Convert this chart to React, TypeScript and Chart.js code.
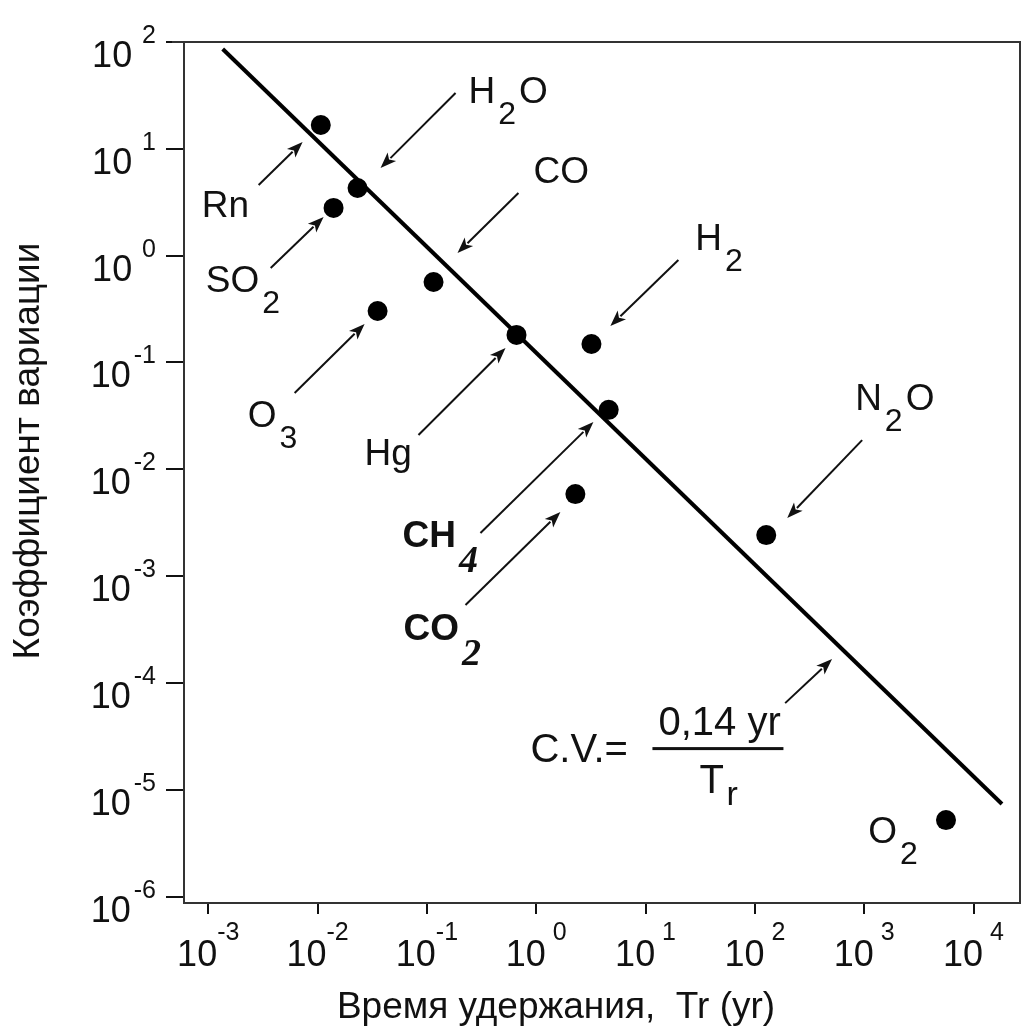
import React, { useEffect, useRef } from "react";
import { Chart, registerables } from "chart.js";

Chart.register(...registerables);

// ---- data ----
const gases = ["Rn", "H2O", "SO2", "CO", "O3", "Hg", "H2", "CH4", "CO2", "N2O", "O2"];
const residenceTime = [0.0107, 0.0232, 0.014, 0.115, 0.0354, 0.66, 3.2, 4.6, 2.28, 127, 5600];
const variationCoef = [16.7, 4.3, 2.8, 0.566, 0.303, 0.181, 0.149, 0.036, 0.00586, 0.00242, 5.2e-6];
const fitTr = [0.001355, 18200];
const fitCV = [85.9, 7.35e-6];
const xTickExps = [-3, -2, -1, 0, 1, 2, 3, 4];
const yTickExps = [2, 1, 0, -1, -2, -3, -4, -5, -6];
const xTitle = "Время удержания,  Tr (yr)";
const yTitle = "Коэффициент вариации";

// annotation anchors in log10 units (x = log10 Tr, y = log10 CV)
const annotations = [
  { parts: [["Rn", "n"]], at: [-3.06, 0.361], tail: [-2.539, 0.661], head: [-2.137, 1.064] },
  { parts: [["H", "n"], ["2", "s"], ["O", "n"]], at: [-0.62, 1.4286], tail: [-0.738, 1.522], head: [-1.424, 0.82] },
  { parts: [["CO", "n"]], at: [-0.0256, 0.68], tail: [-0.163, 0.586], head: [-0.72, 0.0243] },
  { parts: [["SO", "n"], ["2", "s"]], at: [-3.023, -0.341], tail: [-2.429, -0.116], head: [-1.945, 0.361] },
  { parts: [["O", "n"], ["3", "s"]], at: [-2.639, -1.605], tail: [-2.21, -1.286], head: [-1.57, -0.639] },
  { parts: [["Hg", "n"]], at: [-1.57, -1.96], tail: [-1.077, -1.679], head: [-0.281, -0.865] },
  { parts: [["H", "n"], ["2", "s"]], at: [1.455, 0.0524], tail: [1.3, -0.0412], head: [0.678, -0.659] },
  { parts: [["CH", "b"], ["4", "bs"]], at: [-1.223, -2.728], tail: [-0.51, -2.597], head: [0.523, -1.558] },
  { parts: [["CO", "b"], ["2", "bs"]], at: [-1.214, -3.599], tail: [-0.647, -3.27], head: [0.221, -2.4] },
  { parts: [["N", "n"], ["2", "s"], ["O", "n"]], at: [2.917, -1.446], tail: [2.981, -1.727], head: [2.296, -2.457] },
  { parts: [["O", "n"], ["2", "s"]], at: [3.036, -5.498] },
];
const formulaAt = [-0.053, -4.741];
const formulaArrow = { tail: [2.277, -4.189], head: [2.706, -3.777] };

const SANS = "'Liberation Sans', Arial, sans-serif";
const SERIF = "'Liberation Serif', 'Times New Roman', serif";
const INK = "#111";

function fontFor(style: string) {
  if (style === "s") return `32px ${SANS}`;
  if (style === "b") return `bold 37px ${SANS}`;
  if (style === "bs") return `italic bold 38px ${SERIF}`;
  return `37px ${SANS}`;
}

function drawArrow(ctx: CanvasRenderingContext2D, x1: number, y1: number, x2: number, y2: number) {
  const ang = Math.atan2(y2 - y1, x2 - x1);
  const hl = 16, hw = 6;
  const bx = x2 - hl * Math.cos(ang), by = y2 - hl * Math.sin(ang);
  ctx.save();
  ctx.strokeStyle = INK;
  ctx.fillStyle = INK;
  ctx.lineWidth = 2;
  ctx.beginPath();
  ctx.moveTo(x1, y1);
  ctx.lineTo(bx + 2 * Math.cos(ang), by + 2 * Math.sin(ang));
  ctx.stroke();
  ctx.beginPath();
  ctx.moveTo(x2, y2);
  ctx.lineTo(bx + hw * Math.sin(ang), by - hw * Math.cos(ang));
  ctx.lineTo(bx + 4 * Math.cos(ang), by + 4 * Math.sin(ang));
  ctx.lineTo(bx - hw * Math.sin(ang), by + hw * Math.cos(ang));
  ctx.closePath();
  ctx.fill();
  ctx.restore();
}

const textPlugin = {
  id: "texts",
  afterDraw(chart: any) {
    const ctx: CanvasRenderingContext2D = chart.ctx;
    const xs = chart.scales.x;
    const ys = chart.scales.y;
    const { left, right, top, bottom } = chart.chartArea;
    const px = (lx: number) => xs.getPixelForValue(Math.pow(10, lx));
    const py = (ly: number) => ys.getPixelForValue(Math.pow(10, ly));

    ctx.save();
    // top and right frame
    ctx.strokeStyle = "#333";
    ctx.lineWidth = 2;
    ctx.beginPath();
    ctx.moveTo(left - 12, top);
    ctx.lineTo(right, top);
    ctx.lineTo(right, bottom);
    ctx.stroke();

    ctx.fillStyle = INK;
    ctx.textBaseline = "alphabetic";

    // y tick labels
    for (const e of yTickExps) {
      const y = ys.getPixelForValue(Math.pow(10, e));
      const sup = e < 0 ? "-" + -e : " " + e;
      ctx.font = `25px ${SANS}`;
      const sw = ctx.measureText(sup).width;
      const supLeft = left - 28 - sw;
      ctx.textAlign = "left";
      ctx.fillText(sup, supLeft, y + 1);
      ctx.font = `36px ${SANS}`;
      ctx.textAlign = "right";
      ctx.fillText("10", supLeft - 3, y + 25);
    }
    // x tick labels
    for (const e of xTickExps) {
      const x = xs.getPixelForValue(Math.pow(10, e));
      const sup = e < 0 ? "-" + -e : " " + e;
      ctx.font = `36px ${SANS}`;
      const w1 = ctx.measureText("10").width;
      ctx.font = `25px ${SANS}`;
      const w2 = ctx.measureText(sup).width;
      const start = x - (w1 + w2) / 2;
      ctx.textAlign = "left";
      ctx.font = `36px ${SANS}`;
      ctx.fillText("10", start, bottom + 63);
      ctx.font = `25px ${SANS}`;
      ctx.fillText(sup, start + w1, bottom + 37);
    }

    // axis titles
    ctx.font = `37px ${SANS}`;
    ctx.textAlign = "center";
    ctx.fillText(xTitle, 556, bottom + 115);
    ctx.save();
    ctx.translate(29, 451);
    ctx.rotate(-Math.PI / 2);
    ctx.textBaseline = "middle";
    ctx.fillText(yTitle, 0, 0);
    ctx.restore();

    // gas labels and arrows
    for (const a of annotations) {
      let x = px(a.at[0]);
      const y = py(a.at[1]);
      ctx.textAlign = "left";
      for (const [t, s] of a.parts as string[][]) {
        ctx.font = fontFor(s);
        const off = s === "s" ? 21 : s === "bs" ? 25 : 0;
        ctx.fillText(t, x, y + off);
        x += ctx.measureText(t).width + 3;
      }
      if (a.tail && a.head) {
        drawArrow(ctx, px(a.tail[0]), py(a.tail[1]), px(a.head[0]), py(a.head[1]));
      }
    }

    // formula
    const fx = px(formulaAt[0]);
    const fy = py(formulaAt[1]);
    ctx.font = `40px ${SANS}`;
    ctx.textAlign = "left";
    ctx.fillText("C.V.=", fx, fy);
    ctx.fillText("0,14 yr", fx + 128, fy - 27);
    ctx.fillRect(fx + 122, fy - 15, 131, 3);
    ctx.fillText("T", fx + 169, fy + 31);
    ctx.font = `34px ${SANS}`;
    ctx.fillText("r", fx + 196, fy + 43);
    drawArrow(ctx, px(formulaArrow.tail[0]), py(formulaArrow.tail[1]), px(formulaArrow.head[0]), py(formulaArrow.head[1]));

    ctx.restore();
  },
};

export default function App() {
  const ref = useRef<HTMLCanvasElement | null>(null);

  useEffect(() => {
    if (!ref.current) return;
    const points = residenceTime.map((t, i) => ({ x: t, y: variationCoef[i], name: gases[i] }));
    const fit = fitTr.map((t, i) => ({ x: t, y: fitCV[i] }));
    const powTicks = (exps: number[]) => (scale: any) => {
      scale.ticks = exps.map((e) => ({ value: Math.pow(10, e), major: true }));
    };
    const chart = new Chart(ref.current, {
      type: "scatter",
      data: {
        datasets: [
          {
            label: "gases",
            data: points,
            pointRadius: 10,
            pointBackgroundColor: "#000",
            pointBorderWidth: 0,
            showLine: false,
          },
          {
            type: "line",
            label: "C.V. = 0,14 yr / Tr",
            data: fit,
            borderColor: "#000",
            borderWidth: 4,
            pointRadius: 0,
            fill: false,
          } as any,
        ],
      },
      options: {
        responsive: false,
        animation: false,
        layout: { autoPadding: false, padding: { top: 42, right: 2, left: 0, bottom: 0 } },
        plugins: { legend: { display: false }, tooltip: { enabled: false } },
        scales: {
          x: {
            type: "logarithmic",
            position: "bottom",
            min: Math.pow(10, -3.215),
            max: Math.pow(10, 4.425),
            afterBuildTicks: powTicks(xTickExps),
            afterFit: (s: any) => {
              s.height = 128;
            },
            ticks: { display: false },
            grid: { drawOnChartArea: false, drawTicks: true, tickLength: 11, color: "#111", lineWidth: 2 },
            border: { display: true, color: "#333", width: 2 },
          } as any,
          y: {
            type: "logarithmic",
            position: "left",
            min: Math.pow(10, -6.06),
            max: 100,
            afterBuildTicks: powTicks(yTickExps),
            afterFit: (s: any) => {
              s.width = 184;
            },
            ticks: { display: false },
            grid: { drawOnChartArea: false, drawTicks: true, tickLength: 18, color: "#111", lineWidth: 2 },
            border: { display: true, color: "#333", width: 2 },
          } as any,
        },
      },
      plugins: [textPlugin],
    });
    return () => chart.destroy();
  }, []);

  return (
    <div style={{ position: "absolute", left: 0, top: 0, width: 1022, height: 1031, background: "#fff" }}>
      <canvas ref={ref} width={1022} height={1031} style={{ display: "block" }} />
    </div>
  );
}
